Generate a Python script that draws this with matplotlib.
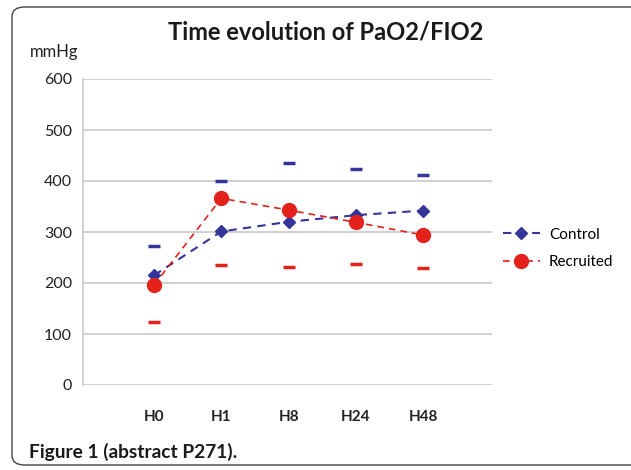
import matplotlib.pyplot as plt
from matplotlib.patches import FancyBboxPatch

plt.rcParams['font.family'] = ['Lato', 'DejaVu Sans']

times = ['H0', 'H1', 'H8', 'H24', 'H48']
control = [215, 301, 320, 333, 342]
recruited = [196, 366, 343, 319, 294]
control_upper = [272, 400, 436, 423, 412]
recruited_lower = [123, 235, 231, 238, 230]

blue = '#33359a'
red = '#e3221c'

W, H = 631, 470
fig = plt.figure(figsize=(W / 100, H / 100), dpi=100)
renderer = fig.canvas.get_renderer()


def fitted_text(x0, x1, base_y, s, **kw):
    # put text between x0 and x1 pixels, sized to fill that span
    t = fig.text(x0 / W, 1 - base_y / H, s, ha='left', va='baseline',
                 fontsize=10, **kw)
    w = t.get_window_extent(renderer).width
    t.set_fontsize(10 * (x1 - x0) / w)
    return t


# rounded frame around the figure
frame = FancyBboxPatch((12 / W, 5 / H), 640 / W, 458 / H,
                       boxstyle='round,pad=0,rounding_size=0.02',
                       transform=fig.transFigure, fill=False,
                       edgecolor='#444444', linewidth=1.0)
fig.patches.append(frame)

ax = fig.add_axes([83 / W, 1 - 385 / H, (492 - 83) / W, (385 - 79) / H])

x = list(range(len(times)))
ax.plot(x, control, color=blue, linestyle=(0, (4, 3)), linewidth=1.5,
        marker='D', markersize=6, label='Control', zorder=3)
ax.plot(x, recruited, color=red, linestyle=(0, (4, 3)), linewidth=1.2,
        marker='o', markersize=10, label='Recruited', zorder=3)
ax.plot(x, control_upper, linestyle='none', marker='_', markersize=9,
        markeredgewidth=2.5, color=blue)
ax.plot(x, recruited_lower, linestyle='none', marker='_', markersize=9,
        markeredgewidth=2.5, color=red)

ax.set_ylim(0, 600)
# category centres sit at about 154 + 67.3*i pixels
ax.set_xlim((83 - 154) / 67.3, (492 - 154) / 67.3)
ax.set_yticks(range(0, 601, 100))
ax.set_xticks(x)
ax.set_xticklabels(times, fontweight='bold', fontsize=11, color='#222222')
ax.tick_params(axis='y', labelsize=11.5, colors='#222222', length=0, pad=8)
ax.tick_params(axis='x', length=0, pad=18)
ax.grid(axis='y', color='#c8c8c8', linewidth=1.2)
ax.set_axisbelow(True)
for side in ['top', 'right', 'bottom']:
    ax.spines[side].set_visible(False)
ax.spines['left'].set_color('#c8c8c8')
ax.spines['left'].set_linewidth(1.2)

fitted_text(168, 485, 40, 'Time evolution of PaO2/FIO2',
            fontweight='bold', color='#1a1a1a')
fitted_text(30, 78, 57, 'mmHg', color='#222222')
fitted_text(29, 237, 458, 'Figure 1 (abstract P271).',
            fontweight='bold', color='#1a1a1a')

fig.legend(loc='center left', bbox_to_anchor=(503 / W, 1 - 248.5 / H),
           frameon=False, fontsize=11, handlelength=2.4, handletextpad=0.6,
           labelspacing=0.9, borderpad=0, borderaxespad=0)

fig.savefig('out.png', dpi=100)
